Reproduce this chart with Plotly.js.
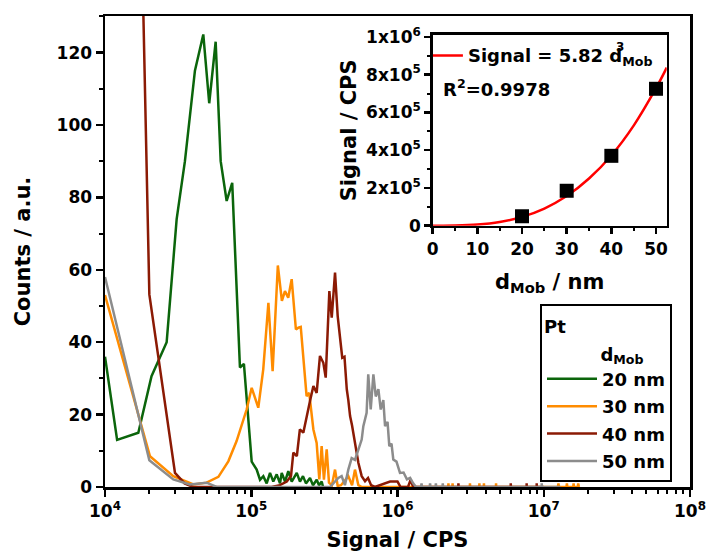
<!DOCTYPE html>
<html>
<head>
<meta charset="utf-8">
<script src="https://cdn.plot.ly/plotly-3.0.1.min.js"></script>
<style>html,body{margin:0;padding:0;background:#fff;}#chart{width:707px;height:553px;}</style>
</head>
<body>
<div id="chart"></div>
<script>
// ---- Main histogram data (Signal / CPS vs Counts) ----
const sizeLabels = ['20 nm', '30 nm', '40 nm', '50 nm'];

const x20 = [1.0e4, 1.21e4, 1.69e4, 2.08e4, 2.64e4, 3.09e4, 3.52e4, 4.12e4, 4.70e4, 5.16e4, 5.71e4, 6.18e4, 6.79e4, 7.41e4, 8.37e4, 8.91e4, 1.007e5, 1.089e5, 1.148e5, 1.209e5, 1.275e5, 1.344e5, 1.415e5, 1.493e5, 1.573e5, 1.615e5, 1.702e5, 1.792e5, 1.891e5, 2.047e5, 2.153e5, 2.258e5, 2.366e5, 2.522e5, 2.644e5, 2.803e5, 2.906e5, 3.032e5, 3.097e5];
const y20 = [36, 13, 15, 30.6, 40, 74, 90, 115, 125, 106, 123, 90, 79, 84, 33, 34, 7, 4.8, 2, 3, 1, 3.9, 1.5, 3.5, 1, 3.9, 1.5, 4.4, 1.5, 3.9, 1.5, 3, 1, 2.5, 0.5, 2, 0.5, 1.5, 0];

const x30 = [1.0e4, 2.03e4, 2.93e4, 4.02e4, 4.95e4, 5.96e4, 6.97e4, 7.94e4, 9.3e4, 1.007e5, 1.117e5, 1.208e5, 1.31e5, 1.40e5, 1.52e5, 1.62e5, 1.70e5, 1.79e5, 1.89e5, 2.02e5, 2.10e5, 2.18e5, 2.39e5, 2.49e5, 2.66e5, 2.80e5, 2.92e5, 3.03e5, 3.14e5, 3.28e5, 3.40e5, 3.56e5, 3.74e5, 3.90e5, 4.11e5, 4.61e5, 4.89e5, 5.12e5, 5.40e5, 5.71e5,
  2.22e6, 2.23e6, 2.24e6, 2.37e6, 2.38e6, 2.39e6, 3.12e6, 3.13e6, 3.14e6, 3.62e6, 3.63e6, 3.64e6, 3.89e6, 3.90e6, 3.91e6, 4.71e6, 4.72e6, 4.73e6, 1.25e7, 1.26e7, 1.27e7, 1.43e7, 1.44e7, 1.45e7, 1.59e7, 1.60e7, 1.61e7, 1.71e7, 1.72e7, 1.74e7];
const y30 = [53, 8.5, 3, 0.7, 1.2, 2.8, 7.1, 12.7, 21.4, 27.4, 21.9, 32.5, 50.9, 32, 61.2, 51.4, 54.1, 52.3, 57.4, 43.5, 44, 44.2, 25.1, 26, 15.9, 12.2, 2.1, 11.3, 2, 10.4, 1.2, 0.5, 4.8, 0.3, 0.5, 3, 0.5, 4.8, 0.5, 0,
  0, 1, 0, 0, 1, 0, 0, 1, 0, 0, 1, 0, 0, 1, 0, 0, 1, 0, 0, 1, 0, 0, 1, 0, 0, 1, 0, 0, 1, 0];

const x40 = [1.69e4, 2.01e4, 3.01e4, 3.5e4, 4.0e4, 1.38e5, 1.57e5, 1.75e5, 1.87e5, 1.94e5, 2.05e5, 2.15e5, 2.27e5, 2.39e5, 2.52e5, 2.66e5, 2.80e5, 2.95e5, 3.11e5, 3.23e5, 3.42e5, 3.55e5, 3.74e5, 3.90e5, 4.04e5, 4.19e5, 4.34e5, 4.50e5, 4.61e5, 4.74e5, 4.89e5, 5.12e5, 5.40e5, 5.69e5, 6.00e5, 6.29e5, 6.6e5, 7.0e5, 8.9e5, 1.0e6, 1.05e6, 1.18e6, 1.23e6, 1.28e6,
  2.60e6, 2.61e6, 2.62e6, 5.94e6, 5.95e6, 5.96e6, 7.63e6, 7.64e6, 7.65e6, 8.94e6, 8.95e6, 8.96e6, 1.0e7];
const y40 = [196, 53.2, 3.9, 1, 0, 0, 0.5, 1.5, 3, 9.5, 8.5, 15.9, 15, 19.6, 23.7, 27.9, 26, 36.2, 34.3, 30.2, 54.1, 46.8, 59.2, 47.2, 40.8, 35.7, 36, 27, 24, 19.6, 17, 12.2, 6.7, 3, 1.6, 2.5, 0.5, 0, 1.5, 1.5, 0, 0, 2, 0,
  0, 1, 0, 0, 1, 0, 0, 1, 0, 0, 1, 0, 0];

const x50 = [1.0e4, 2.01e4, 2.93e4, 3.8e4, 4.95e4, 5.8e4, 3.45e5, 3.94e5, 4.15e5, 4.37e5, 4.61e5, 4.86e5, 5.12e5, 5.40e5, 5.69e5, 5.84e5, 6.15e5, 6.31e5, 6.56e5, 6.84e5, 7.10e5, 7.40e5, 7.68e5, 8.00e5, 8.22e5, 8.55e5, 8.79e5, 9.10e5, 9.36e5, 9.84e5, 1.04e6, 1.10e6, 1.16e6, 1.22e6, 1.28e6, 1.34e6,
  1.45e6, 1.46e6, 1.47e6, 1.66e6, 1.67e6, 1.68e6, 1.82e6, 1.83e6, 1.84e6, 2.03e6, 2.04e6, 2.05e6, 9.68e6, 9.69e6, 9.70e6, 1.3e7];
const y50 = [58, 7.4, 2.1, 0.7, 1.2, 0, 0, 2.5, 3, 0.5, 4.8, 8, 7.5, 10.4, 13.1, 16.8, 20.5, 31.1, 21.4, 31.1, 25, 27, 21.4, 24, 16.8, 18, 11.3, 12, 7.6, 7, 3.9, 4, 2.1, 2.5, 1, 0,
  0, 1, 0, 0, 1, 0, 0, 1, 0, 0, 1, 0, 0, 1, 0, 0];

const xTickVals = [1e4, 1e5, 1e6, 1e7, 1e8];
const xTickText = ['10<sup>4</sup>', '10<sup>5</sup>', '10<sup>6</sup>', '10<sup>7</sup>', '10<sup>8</sup>'];

// ---- Inset data (Signal vs d_Mob) ----
const dMob = [20, 30, 40, 50];
const signalCPS = [5.0e4, 1.85e5, 3.7e5, 7.25e5];
const fitD = [0, 5, 10, 15, 20, 25, 30, 35, 40, 45, 50, 52.4];
const fitSignal = [0, 730, 5800, 19600, 46600, 91000, 157000, 250000, 372000, 530000, 728000, 837000];
const insetYTickVals = [0, 2e5, 4e5, 6e5, 8e5, 1e6];
const insetYTickText = ['0', '2x10<sup>5</sup>', '4x10<sup>5</sup>', '6x10<sup>5</sup>', '8x10<sup>5</sup>', '1x10<sup>6</sup>'];

const colors = ['#0b650b', '#ff8c00', '#8b1a04', '#8c8c8c'];
const FONT = 'DejaVu Sans';

const minorX = [];
for (let e = 4; e < 8; e++) for (let m = 2; m <= 9; m++) minorX.push(m * Math.pow(10, e));

const series = [[x20, y20], [x30, y30], [x40, y40], [x50, y50]];
const traces = series.map((s, i) => ({
  x: s[0], y: s[1], type: 'scatter', mode: 'lines', name: sizeLabels[i],
  line: {color: colors[i], width: 2.5}, xaxis: 'x', yaxis: 'y',
  legend: 'legend', legendgroup: 'g' + i
}));

traces.push({
  x: fitD, y: fitSignal, type: 'scatter', mode: 'lines', line: {color: '#ff0000', width: 2.5, shape: 'spline'},
  name: 'Signal = 5.82 d<sub>Mob</sub>', xaxis: 'x2', yaxis: 'y2', legend: 'legend2'
});
traces.push({
  x: dMob, y: signalCPS, type: 'scatter', mode: 'markers', marker: {symbol: 'square', size: 14, color: 'black'},
  showlegend: false, xaxis: 'x2', yaxis: 'y2', cliponaxis: false
});

const axCommon = {
  showline: true, linewidth: 2.5, linecolor: 'black', mirror: true, ticks: 'outside',
  tickcolor: 'black', tickwidth: 2.5, showgrid: false, zeroline: false
};

const layout = {
  width: 707, height: 553,
  margin: {l: 105, r: 17, t: 16, b: 66},
  paper_bgcolor: 'white', plot_bgcolor: 'white',
  font: {family: FONT, size: 17, color: 'black', weight: 'bold'},
  showlegend: true,
  xaxis: Object.assign({}, axCommon, {
    type: 'log', range: [4, 8], ticklen: 7, tickvals: xTickVals, ticktext: xTickText,
    tickfont: {family: FONT, size: 17, weight: 'bold'},
    minor: {tickvals: minorX, ticks: 'outside', ticklen: 4, tickwidth: 2, tickcolor: 'black', showgrid: false},
    title: {text: 'Signal / CPS', font: {family: FONT, size: 21, weight: 'bold'}, standoff: 13}
  }),
  yaxis: Object.assign({}, axCommon, {
    range: [0, 130.1], ticklen: 7, tick0: 0, dtick: 20,
    tickfont: {family: FONT, size: 17, weight: 'bold'},
    minor: {dtick: 10, ticks: 'outside', ticklen: 4, tickwidth: 2, tickcolor: 'black', showgrid: false},
    title: {text: 'Counts / a.u.', font: {family: FONT, size: 21, weight: 'bold'}, standoff: 20}
  }),
  xaxis2: Object.assign({}, axCommon, {
    domain: [0.5602, 0.9602], anchor: 'y2', range: [0, 52.4], tick0: 0, dtick: 10, ticklen: 6,
    tickfont: {family: FONT, size: 17, weight: 'bold'},
    minor: {dtick: 5, ticks: 'outside', ticklen: 3, tickwidth: 2, tickcolor: 'black', showgrid: false},
    title: {text: 'd<sub>Mob</sub> / nm', font: {family: FONT, size: 21, weight: 'bold'}, standoff: 17}
  }),
  yaxis2: Object.assign({}, axCommon, {
    domain: [0.5548, 0.9597], anchor: 'x2', range: [0, 1.01e6], ticklen: 6,
    tickvals: insetYTickVals, ticktext: insetYTickText,
    tickfont: {family: FONT, size: 17, weight: 'bold'},
    minor: {dtick: 1e5, ticks: 'outside', ticklen: 3, tickwidth: 2, tickcolor: 'black', showgrid: false},
    title: {text: 'Signal / CPS', font: {family: FONT, size: 21, weight: 'bold'}, standoff: 4}
  }),
  legend: {
    x: 0.7436, y: 0.3885, xanchor: 'left', yanchor: 'top',
    bgcolor: 'white', bordercolor: 'black', borderwidth: 2,
    font: {family: FONT, size: 18, weight: 'bold'},
    itemwidth: 50, tracegroupgap: 1, traceorder: 'grouped',
    title: {text: '<span style="font-size:18px">Pt</span><br><span style="font-size:18px">\u00a0\u00a0\u00a0\u00a0\u00a0\u00a0\u00a0\u00a0\u00a0d<sub>Mob</sub></span>',
            font: {family: FONT, size: 21, weight: 'bold'}}
  },
  legend2: {
    x: 0.552, y: 0.955, xanchor: 'left', yanchor: 'top',
    bgcolor: 'rgba(0,0,0,0)', borderwidth: 0,
    font: {family: FONT, size: 18, weight: 'bold'}, itemwidth: 30
  },
  annotations: [
    {xref: 'paper', yref: 'paper', x: 0.5744, y: 0.847, xanchor: 'left', yanchor: 'middle', showarrow: false,
     text: 'R<sup>2</sup>=0.9978', font: {family: FONT, size: 18, weight: 'bold'}},
    {xref: 'paper', yref: 'paper', x: 0.8695, y: 0.935, xanchor: 'left', yanchor: 'middle', showarrow: false,
     text: '3', font: {family: FONT, size: 12, weight: 'bold'}}
  ]
};

Plotly.newPlot('chart', traces, layout, {displayModeBar: false, staticPlot: true});
</script>
</body>
</html>
